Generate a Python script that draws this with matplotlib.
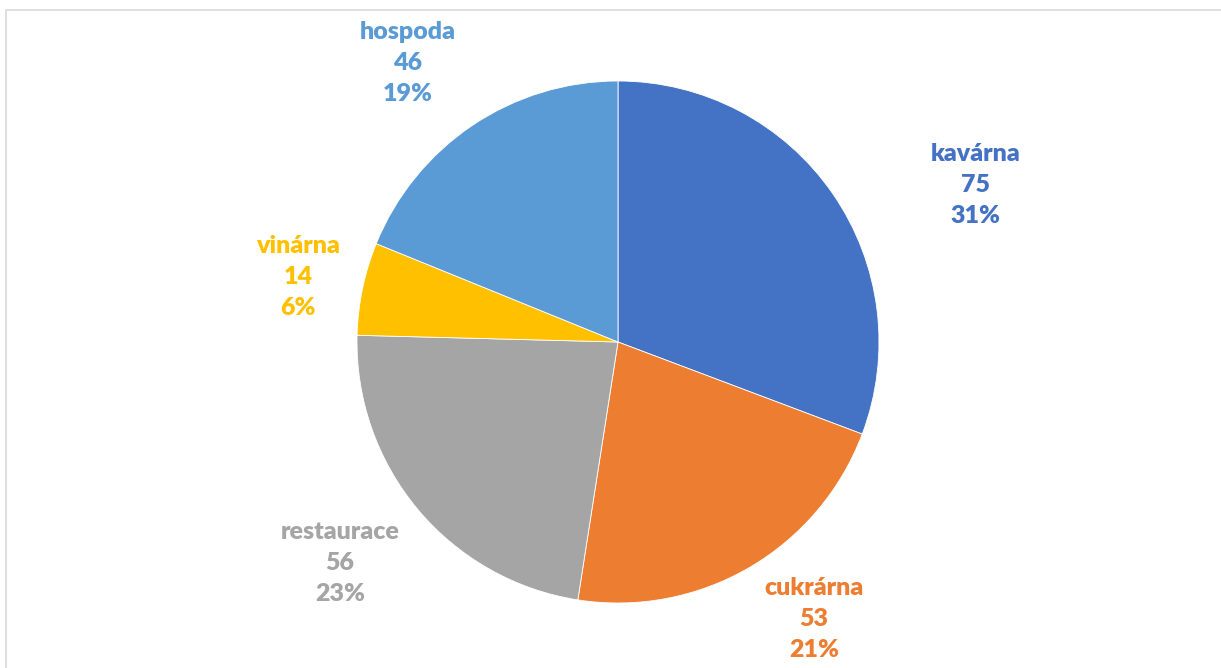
import numpy as np
import matplotlib.pyplot as plt
from matplotlib.patches import Rectangle

# data
categories = ["kavárna", "cukrárna", "restaurace", "vinárna", "hospoda"]
counts = [75, 53, 56, 14, 46]
pct_labels = ["31%", "21%", "23%", "6%", "19%"]
colors = ["#4472C4", "#ED7D31", "#A5A5A5", "#FFC000", "#5B9BD5"]

# label placement (distance in radii, angle tweak in degrees clockwise)
label_dist = [1.495, 1.30, 1.36, 1.25, 1.34]
label_shift = [11.0, -5.0, 1.4, -0.3, -3.1]

W, H = 1221, 668
fig = plt.figure(figsize=(W / 100, H / 100), dpi=100)
ax = fig.add_axes([0, 0, 1, 1])

cx, cy, r = 618, H - 342, 261
ax.pie(counts, colors=colors, startangle=90, counterclock=False,
       center=(cx, cy), radius=r, frame=True,
       wedgeprops=dict(edgecolor="white", linewidth=0.6))
ax.set_xlim(0, W)
ax.set_ylim(0, H)
ax.axis("off")

total = sum(counts)
start = 0.0
for i, (name, v) in enumerate(zip(categories, counts)):
    span = v / total * 360
    mid = start + span / 2 + label_shift[i]
    start += span
    a = np.deg2rad(mid)
    x = cx + label_dist[i] * r * np.sin(a)
    y = cy + label_dist[i] * r * np.cos(a)
    ax.text(x, y, f"{name}\n{v}\n{pct_labels[i]}", ha="center", va="center",
            color=colors[i], fontsize=18, fontweight="heavy",
            family="Lato", linespacing=1.5)

# chart border (left/top visible)
fig.patches.append(Rectangle((6 / W, -0.1), 1.2, 1.1 - 10 / H,
                             transform=fig.transFigure, fill=False,
                             edgecolor="#D9D9D9", linewidth=1.2))

fig.savefig("out.png", dpi=100)
